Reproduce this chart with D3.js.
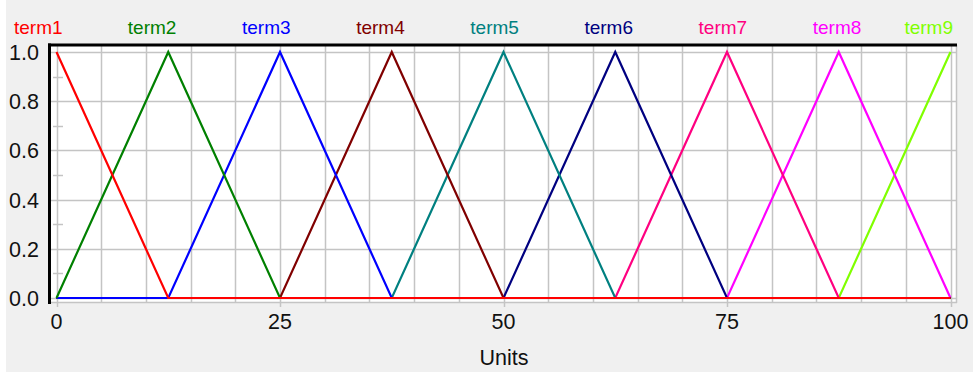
<!DOCTYPE html>
<html><head><meta charset="utf-8">
<script src="https://cdn.jsdelivr.net/npm/d3@7"></script>
<style>
html,body{margin:0;padding:0;background:#fff;}
svg{display:block;}
text{font-family:"Liberation Sans",Arial,sans-serif;}
</style></head>
<body>
<svg id="c" width="973" height="374"></svg>
<script>
// ---- data ----
const xBreaks = [0, 12.5, 25, 37.5, 50, 62.5, 75, 87.5, 100];
const termNames = ["term1","term2","term3","term4","term5","term6","term7","term8","term9"];
const termColors = ["#ff0000","#008000","#0000ff","#800000","#008080","#000080","#ff0080","#ff00ff","#80ff00"];
const term1 = [1,0,0,0,0,0,0,0,0];
const term2 = [0,1,0,0,0,0,0,0,0];
const term3 = [0,0,1,0,0,0,0,0,0];
const term4 = [0,0,0,1,0,0,0,0,0];
const term5 = [0,0,0,0,1,0,0,0,0];
const term6 = [0,0,0,0,0,1,0,0,0];
const term7 = [0,0,0,0,0,0,1,0,0];
const term8 = [0,0,0,0,0,0,0,1,0];
const term9 = [0,0,0,0,0,0,0,0,1];
const termPeaks = [0, 12.5, 25, 37.5, 50, 62.5, 75, 87.5, 100];
const xTickLabels = [0, 25, 50, 75, 100];
const yTickLabels = [0, 0.2, 0.4, 0.6, 0.8, 1.0];
const xAxisTitle = "Units";

const series = [term1,term2,term3,term4,term5,term6,term7,term8,term9];

// ---- layout ----
const svg = d3.select("#c");
const frame = {left: 50, right: 957, top: 45, bottom: 302};
const x = d3.scaleLinear().domain([0,100]).range([56.5, 950.5]);
const y = d3.scaleLinear().domain([0,1]).range([298, 52]);
const labelX = d3.scaleLinear().domain([0,87.5]).range([38, 837]);

// panel
svg.append("rect").attr("x",6).attr("y",0).attr("width",967).attr("height",372).attr("fill","#f0f0f0");
// plot area
svg.append("rect").attr("x",frame.left).attr("y",frame.top)
  .attr("width",frame.right-frame.left).attr("height",frame.bottom-frame.top).attr("fill","#fff");

const gridColor = "#c4c4c4";
const g = svg.append("g");
// vertical grid every 5 units
g.selectAll(".vg").data(d3.range(0,101,5)).join("line")
  .attr("x1",d=>Math.round(x(d))+0.5).attr("x2",d=>Math.round(x(d))+0.5)
  .attr("y1",frame.top).attr("y2",d=> d%25===0 ? 307 : frame.bottom+1)
  .attr("stroke",gridColor).attr("stroke-width",1.5);
// horizontal grid every 0.2
g.selectAll(".hg").data(yTickLabels).join("line")
  .attr("x1",frame.left).attr("x2",frame.right)
  .attr("y1",d=>Math.round(y(d))+0.5).attr("y2",d=>Math.round(y(d))+0.5)
  .attr("stroke",gridColor).attr("stroke-width",1.5);
// minor y ticks
g.selectAll(".mt").data([0.1,0.3,0.5,0.7,0.9]).join("line")
  .attr("x1",frame.left+3).attr("x2",frame.left+13)
  .attr("y1",d=>Math.round(y(d))+0.5).attr("y2",d=>Math.round(y(d))+0.5)
  .attr("stroke",gridColor).attr("stroke-width",1.5);
// right & bottom light border
svg.append("line").attr("x1",frame.right-0.5).attr("x2",frame.right-0.5).attr("y1",frame.top).attr("y2",frame.bottom+1)
  .attr("stroke",gridColor).attr("stroke-width",1.5);
svg.append("line").attr("x1",frame.left).attr("x2",frame.right).attr("y1",frame.bottom+0.5).attr("y2",frame.bottom+0.5)
  .attr("stroke",gridColor).attr("stroke-width",1.5);

// series lines, drawn last-to-first
const line = d3.line().x((d,i)=>x(xBreaks[i])).y(d=>y(d));
const order = d3.range(series.length).reverse();
svg.append("g").selectAll("path").data(order).join("path")
  .attr("d",i=>line(series[i]))
  .attr("fill","none").attr("stroke",i=>termColors[i]).attr("stroke-width",2.2)
  .attr("stroke-linejoin","miter");

// black top & left borders
svg.append("line").attr("x1",frame.left-2).attr("x2",frame.right).attr("y1",frame.top).attr("y2",frame.top)
  .attr("stroke","#000").attr("stroke-width",3);
svg.append("line").attr("x1",frame.left-0.5).attr("x2",frame.left-0.5).attr("y1",frame.top-1.5).attr("y2",frame.bottom+2)
  .attr("stroke","#000").attr("stroke-width",3);

// y tick labels
svg.append("g").selectAll("text").data(yTickLabels).join("text")
  .attr("x",39).attr("y",d=>y(d)+8).attr("text-anchor","end")
  .attr("font-size",21.5).attr("fill","#111").text(d3.format(".1f"));
// x tick labels
svg.append("g").selectAll("text").data(xTickLabels).join("text")
  .attr("x",d=>x(d)).attr("y",329).attr("text-anchor","middle")
  .attr("font-size",21.5).attr("fill","#111").text(d=>d);
// axis title
svg.append("text").attr("x",504).attr("y",365).attr("text-anchor","middle")
  .attr("font-size",21.5).attr("fill","#111").text(xAxisTitle);

// term labels
svg.append("g").selectAll("text").data(termNames).join("text")
  .attr("y",34).attr("font-size",19).attr("text-anchor","middle")
  .attr("fill",(d,i)=>termColors[i]).text(d=>d)
  .attr("x",function(d,i){
    const w = this.getComputedTextLength();
    let cx = labelX(termPeaks[i]);
    cx = Math.min(cx, 953 - w/2);
    cx = Math.max(cx, 14 + w/2);
    return cx;
  });
</script>
</body></html>
